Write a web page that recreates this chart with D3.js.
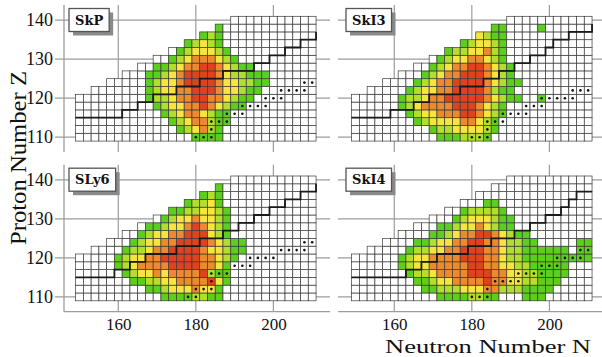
<!DOCTYPE html>
<html><head><meta charset="utf-8">
<script src="https://cdn.jsdelivr.net/npm/d3@7"></script>
<style>body{margin:0;background:#fff}svg{display:block}</style>
</head><body>
<svg id="c" width="602" height="357"></svg>
<script>
// ---------------- data ----------------
const zRows = [110,112,114,116,118,120,122,124,126,128,130,132,134,136,138,140];
const rowStartN = [150,150,150,150,150,150,154,158,162,166,170,174,178,182,186,190];
const rowEndN = 210;
const xTicks = [160,180,200];
const yTicks = [110,120,130,140];
const panelNames = ["SkP","SkI3","SLy6","SkI4"];
const colorCodes = {g:"#5ccf1c", l:"#b2de2c", y:"#f6e63c", o:"#ee8a2e", r:"#e0421f"};

// rows: [Z, first N, colour codes for N, N+2, ...]
const cellsSkP = [
  [138,186,"g"],[136,182,"glg"],[134,178,"glylg"],[132,176,"glyyylg"],
  [130,174,"glyoooylg"],[128,170,"gglyoorroylgg"],[126,168,"gglyorrrroyllggg"],
  [124,168,"glyyorrrroyyllgg"],[122,168,"glyyoorrroyylgg"],[120,168,"gllyoorrooylgg"],
  [118,170,"glyyooroylgg"],[116,172,"glyooylgg"],[114,174,"glyoolgg"],
  [112,176,"glyolg"],[110,180,"gggg"]
];
const cellsSkI3 = [
  [138,186,"gg"],[138,198,"g"],[136,180,"gylgg"],[134,178,"glyylg"],[132,174,"gllyyolg"],
  [130,172,"glyyooylg"],[128,170,"glyoorroylg"],[126,168,"glyoorrroylg"],
  [124,166,"glyoorrrroylgg"],[122,164,"glyyoorrrrolgg"],[120,162,"gllyoorrrrroylgg"],[120,198,"g"],
  [118,162,"glyoooorrroylg"],[116,164,"glyyooorroylg"],[114,166,"glyyyyooylg"],
  [112,170,"gllyyyylg"],[110,172,"ggglllg"]
];
const cellsSLy6 = [
  [138,186,"g"],[136,182,"glg"],[134,178,"gllyg"],[132,174,"ggllyylg"],
  [130,172,"glyyoyylg"],[128,168,"gglyyoroylg"],[126,166,"glyyoorrrylg"],
  [124,164,"glyyoorrrroylgg"],[122,162,"gllyoorrrroyylgg"],[120,160,"glyyoorrrrrooylg"],
  [118,160,"glyoooorrrrooyg"],[116,162,"glyyoyoooorlgg"],[114,164,"ggllyyooooryg"],
  [112,168,"gglyyyoyyg"],[110,172,"ggggllgg"]
];
const cellsSkI4 = [
  [134,184,"gg"],[132,178,"gllllg"],[130,176,"glyyylgg"],[128,172,"gglyyoylgg"],
  [126,170,"gglyoorroylgg"],[124,166,"gglyyoorrooyllgg"],[124,208,"gg"],
  [122,164,"gllyyoorrrooyllgggggg"],[122,208,"gg"],
  [120,162,"glyyoooorrrooyllggggggggg"],[118,162,"glyyooooorrooyyllggggg"],
  [116,164,"gllyoooorrrooyyllgggg"],[114,166,"gglyyoooorooyyllggg"],
  [112,168,"gglllyyyoolllgggg"],[110,172,"ggggllgg"],[110,194,"ggg"]
];

const dotsSkP = [[180,110],[182,110],[184,110],[184,112],[184,114],[186,114],[188,114],
  [188,116],[190,116],[192,116],[192,118],[194,118],[196,118],[198,118],[198,120],[200,120],[202,120],
  [202,122],[204,122],[206,122],[208,122],[208,124],[210,124]];
const dotsSkI3 = [[180,110],[182,110],[184,110],[184,112],[184,114],[186,114],[188,114],
  [188,116],[190,116],[192,116],[194,116],[194,118],[196,118],[198,118],[198,120],[200,120],[202,120],
  [204,120],[206,120],[206,122],[208,122],[210,122]];
const dotsSLy6 = [[178,110],[180,110],[180,112],[182,112],[184,112],[184,114],[184,116],[186,116],[188,116],
  [190,118],[192,118],[194,118],[194,120],[196,120],[198,120],[200,120],[202,122],[204,122],[206,122],
  [208,122],[208,124],[210,124]];
const dotsSkI4 = [[180,110],[182,110],[184,110],[184,112],[186,114],[188,114],[190,114],[192,114],
  [192,116],[194,116],[196,116],[198,116],[198,118],[200,118],[202,118],[202,120],[204,120],[206,120],
  [208,120],[208,122],[210,122]];

const lineSkP = [[149,115],[161,115],[161,117],[165,117],[165,119],[169,119],[169,121],[175,121],
  [175,123],[181,123],[181,125],[187,125],[187,127],[195,127],[195,129],[199,129],[199,131],[203,131],
  [203,133],[207,133],[207,135],[211,135],[211,137]];
const lineSkI3 = [[149,115],[159,115],[159,117],[165,117],[165,119],[169,119],[169,121],[177,121],
  [177,123],[183,123],[183,125],[187,125],[187,127],[191,127],[191,129],[195,129],[195,131],[199,131],
  [199,133],[201,133],[201,135],[205,135],[205,137],[211,137],[211,139]];
const lineSLy6 = [[149,115],[159,115],[159,117],[163,117],[163,119],[167,119],[167,121],[175,121],
  [175,123],[181,123],[181,125],[187,125],[187,127],[191,127],[191,129],[195,129],[195,131],[199,131],
  [199,133],[203,133],[203,135],[207,135],[207,137],[211,137],[211,139]];
const lineSkI4 = [[149,115],[163,115],[163,117],[167,117],[167,119],[171,119],[171,121],[179,121],
  [179,123],[185,123],[185,125],[191,125],[191,127],[195,127],[195,129],[199,129],[199,131],[203,131],
  [203,133],[205,133],[205,135],[207,135],[207,137],[211,137]];

const panelCells = [cellsSkP, cellsSkI3, cellsSLy6, cellsSkI4];
const panelDots = [dotsSkP, dotsSkI3, dotsSLy6, dotsSkI4];
const panelLines = [lineSkP, lineSkI3, lineSLy6, lineSkI4];

// ---------------- layout ----------------
const svg = d3.select("#c");
const nDomain = [146, 214.6], zDomain = [106.2, 143.9];
const layout = [
  {x0:64, x1:330, y0:5, y1:152, col:0, row:0},
  {x0:340, x1:606, y0:5, y1:152, col:1, row:0},
  {x0:64, x1:330, y0:164.7, y1:311.7, col:0, row:1},
  {x0:340, x1:606, y0:164.7, y1:311.7, col:1, row:1}
];
const grid = "#9c9c9c";
const serif = "'DejaVu Serif', 'Liberation Serif', serif";
const tickFont = "'Liberation Serif', 'DejaVu Serif', serif";

layout.forEach((L, p) => {
  const x = d3.scaleLinear().domain(nDomain).range([L.x0, L.x1]);
  const y = d3.scaleLinear().domain(zDomain).range([L.y1, L.y0]);
  const g = svg.append("g");
  const right = L.col === 0 ? 330 : 602;
  const gl = L.col === 0 ? 55 : 338;
  // grid lines
  g.selectAll(".hz").data(yTicks).join("line")
    .attr("x1", gl).attr("x2", right).attr("y1", d => y(d)).attr("y2", d => y(d))
    .attr("stroke", grid).attr("stroke-width", 1.2);
  g.selectAll(".vt").data(xTicks).join("line")
    .attr("x1", d => x(d)).attr("x2", d => x(d)).attr("y1", L.y0).attr("y2", L.y1)
    .attr("stroke", grid).attr("stroke-width", 1.2);
  if (L.col === 0) g.append("line").attr("x1", L.x0).attr("x2", L.x0).attr("y1", L.y0).attr("y2", L.y1)
    .attr("stroke", grid).attr("stroke-width", 1.3);
  if (L.row === 1) g.append("line").attr("x1", L.col === 0 ? L.x0 : 338).attr("x2", right)
    .attr("y1", L.y1).attr("y2", L.y1).attr("stroke", grid).attr("stroke-width", 1.3);

  // all computed nuclei (white cells)
  const cells = [];
  zRows.forEach((z, i) => {
    for (let n = rowStartN[i]; n <= rowEndN; n += 2) cells.push({n, z, c: null});
  });
  const colorMap = new Map();
  panelCells[p].forEach(([z, n0, s]) => {
    [...s].forEach((ch, k) => colorMap.set((n0 + 2*k) + "_" + z, colorCodes[ch]));
  });
  cells.forEach(d => { d.c = colorMap.get(d.n + "_" + d.z) || "#ffffff"; });
  g.selectAll(".cell").data(cells).join("rect")
    .attr("x", d => x(d.n - 1)).attr("y", d => y(d.z + 1))
    .attr("width", x(2) - x(0)).attr("height", y(0) - y(2))
    .attr("fill", d => d.c).attr("stroke", "#3a3a3a").attr("stroke-width", 0.7);

  // staircase line
  g.append("path").datum(panelLines[p])
    .attr("d", d3.line().x(d => x(d[0])).y(d => y(d[1])))
    .attr("fill", "none").attr("stroke", "#1a1a1a").attr("stroke-width", 1.8);

  // dots
  g.selectAll(".dot").data(panelDots[p]).join("circle")
    .attr("cx", d => x(d[0])).attr("cy", d => y(d[1])).attr("r", 1.3).attr("fill", "#111");

  // label box
  const bx = L.x0 + (L.col === 0 ? 5 : 6), by = L.y0 + 3.5;
  const t = g.append("text").attr("x", 0).attr("y", 0).text(panelNames[p])
    .attr("font-family", serif).attr("font-weight", "bold").attr("font-size", 13);
  const tw = t.node().getComputedTextLength();
  const bw = tw + 12, bh = 23;
  g.insert("rect", "text").attr("x", bx + 4).attr("y", by + 4).attr("width", bw).attr("height", bh)
    .attr("fill", "#8a8a8a");
  g.insert("rect", "text").attr("x", bx).attr("y", by).attr("width", bw).attr("height", bh)
    .attr("fill", "#fff").attr("stroke", "#555").attr("stroke-width", 1.3);
  t.attr("x", bx + bw/2).attr("y", by + bh/2 + 4.5).attr("text-anchor", "middle").attr("fill", "#111");

  // axes labels
  if (L.col === 0) {
    const ax = d3.axisLeft(y).tickValues(yTicks).tickSize(0).tickPadding(11);
    const a = svg.append("g").attr("transform", `translate(${L.x0},0)`).call(ax);
    a.select(".domain").remove();
    a.selectAll("text").attr("font-family", tickFont).attr("font-size", 18).attr("fill", "#111");
  }
  if (L.row === 1) {
    const ax = d3.axisBottom(x).tickValues(xTicks).tickSize(0).tickPadding(6);
    const a = svg.append("g").attr("transform", `translate(0,${L.y1})`).call(ax);
    a.select(".domain").remove();
    a.selectAll("text").attr("font-family", tickFont).attr("font-size", 17).attr("fill", "#111");
  }
});

svg.append("text").attr("transform", "translate(26,158) rotate(-90)")
  .attr("text-anchor", "middle").attr("font-family", tickFont).attr("font-size", 24)
  .attr("textLength", 174).attr("lengthAdjust", "spacingAndGlyphs").attr("fill", "#111")
  .text("Proton Number Z");
svg.append("text").attr("x", 488).attr("y", 352.5)
  .attr("text-anchor", "middle").attr("font-family", tickFont).attr("font-size", 19.5)
  .attr("textLength", 206).attr("lengthAdjust", "spacingAndGlyphs").attr("fill", "#111")
  .text("Neutron Number N");
</script>
</body></html>
